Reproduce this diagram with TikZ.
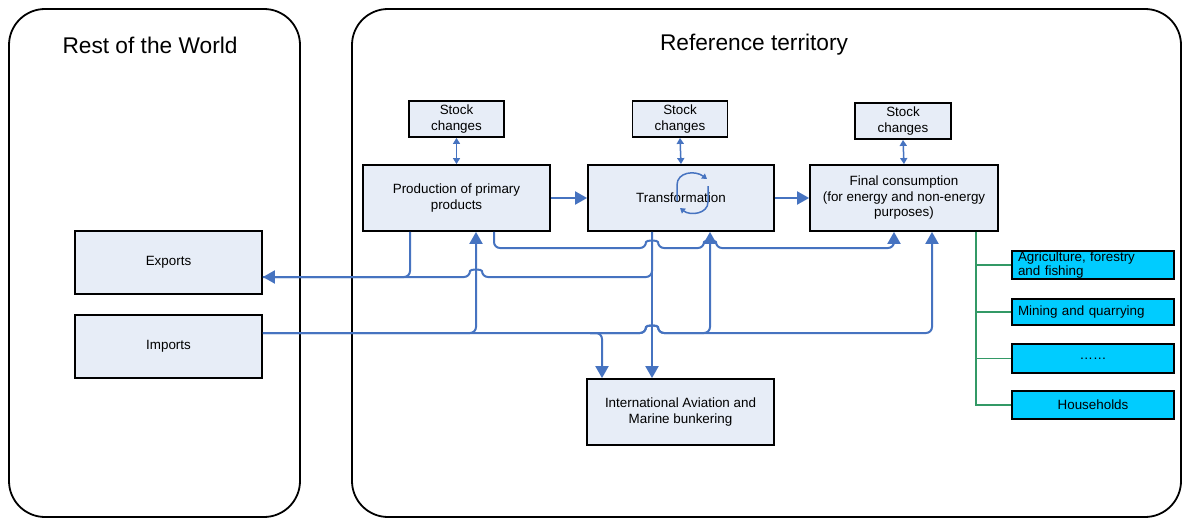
\documentclass[tikz,border=0pt]{standalone}
\usepackage{fontspec}
\setmainfont{Liberation Sans}
\usetikzlibrary{arrows.meta}
\definecolor{flowblue}{RGB}{70,115,192}
\definecolor{boxfill}{RGB}{231,237,247}
\definecolor{sectorcyan}{RGB}{0,204,255}
\definecolor{branchgreen}{RGB}{51,153,102}
% jump of a horizontal line over a vertical one, going right / going left
\newcommand\hop[2]{-- (#1-6,#2) .. controls (#1-6,#2-8) and (#1+6,#2-8) .. (#1+6,#2)}
\newcommand\hopleft[2]{-- (#1+6,#2) .. controls (#1+6,#2-8) and (#1-6,#2-8) .. (#1-6,#2)}
\begin{document}
\begin{tikzpicture}[x=1pt,y=-1pt,
  box/.style={draw=black,line width=1.8,fill=boxfill,align=center,inner sep=0,
    font=\fontsize{13.4}{15.5}\selectfont},
  sector/.style={draw=black,line width=1.8,fill=sectorcyan,inner xsep=6,inner ysep=0,
    minimum width=162,font=\fontsize{13.4}{14.5}\selectfont},
  area/.style={draw=black,line width=1.8,rounded corners=36},
  title/.style={font=\fontsize{22.7}{26}\selectfont},
  flow/.style={draw=flowblue,line width=2,rounded corners=6},
  tip/.style={-{Triangle[width=13,length=12]}},
  stock/.style={draw=flowblue,line width=1.5,{Triangle[width=7,length=6]}-{Triangle[width=7,length=6]}},
  branch/.style={draw=branchgreen,line width=1.8}]
\useasboundingbox (0,0) rectangle (1183,519);
% the two areas
\draw[area] (9,9) rectangle (300,517);
\draw[area] (352,9) rectangle (1181,517);
\node[title] (world) at (150,45) {Rest of the World};
\node[title] (terr) at (754,45) {Reference territory};
% boxes
\node[box,minimum width=95,minimum height=36] (s1) at (456.5,119) {Stock\\changes};
\node[box,minimum width=95,minimum height=36] (s2) at (680,119) {Stock\\changes};
\node[box,minimum width=96,minimum height=36] (s3) at (903,121) {Stock\\changes};
\node[box,minimum width=187,minimum height=66] (prod) at (456.5,198) {Production of primary\\products};
\node[box,minimum width=186,minimum height=66] (trans) at (681,198) {Transformation};
\node[box,minimum width=188,minimum height=66] (final) at (904,198) {Final consumption\\(for energy and non-energy\\purposes)};
\node[box,minimum width=187,minimum height=63] (exports) at (168.5,262.5) {Exports};
\node[box,minimum width=187,minimum height=63] (imports) at (168.5,346.5) {Imports};
\node[box,minimum width=187,minimum height=66] (bunker) at (680.5,412) {International Aviation and\\Marine bunkering};
\node[sector,minimum height=28,text width=150,align=left] (c1) at (1093,265) {Agriculture, forestry\\and fishing};
\node[sector,minimum height=26,text width=150,align=left] (c2) at (1093,312) {Mining and quarrying};
\node[sector,minimum height=29] (c3) at (1093,358.5) {……};
\node[sector,minimum height=28] (c4) at (1093,405) {Households};
% rows of the flow lines
\coordinate (rowA) at (0,248);
\coordinate (rowB) at (0,277);
\coordinate (rowC) at (0,333);
% stock changes
\draw[stock] (s1.south) -- (prod.north);
\draw[stock] (s2.south) -- (trans.north);
\draw[stock] (s3.south) -- (final.north);
% main chain
\draw[flow,tip] (prod.east) -- (trans.west);
\draw[flow,tip] (trans.east) -- (final.west);
% exports
\draw[flow] ([xshift=-46.5]prod.south) -- (410,277) -- (exports.east |- rowB);
\draw[flow,tip] ([xshift=-29]trans.south) -- (652,277) \hopleft{476}{277} -- (exports.east |- rowB);
\draw[flow,tip] ([xshift=-29]trans.south) -- ([xshift=-28.5]bunker.north);
% production to final consumption
\draw[flow,tip] ([xshift=37.5]prod.south) -- (494,248) \hop{652}{248} \hop{710}{248} -- (894,248) -- ([xshift=-10]final.south);
% imports
\draw[flow,tip] (imports.east |- rowC) -- (476,333) -- ([xshift=19.5]prod.south);
\draw[flow,tip] (imports.east |- rowC) -- (476,333) -- (602,333) -- ([xshift=-78.5]bunker.north);
\draw[flow,tip] (590,333) \hop{652}{333} -- (710,333) -- ([xshift=29]trans.south);
\draw[flow,tip] (590,333) \hop{652}{333} -- (932,333) -- ([xshift=28]final.south);
% loop in transformation
\draw[draw=flowblue,line width=1.5,-{Triangle[width=6,length=5]}] (677,201) -- (677,185) .. controls (677,172) and (695,170) .. (707,179);
\draw[draw=flowblue,line width=1.5,-{Triangle[width=6,length=5]}] (708,186) -- (708,202) .. controls (708,214) and (690,216) .. (680,208);
% sectors
\foreach \s in {c1,c2,c3,c4}
  \draw[branch] ([xshift=72]final.south) |- (\s.west);
\end{tikzpicture}
\end{document}
